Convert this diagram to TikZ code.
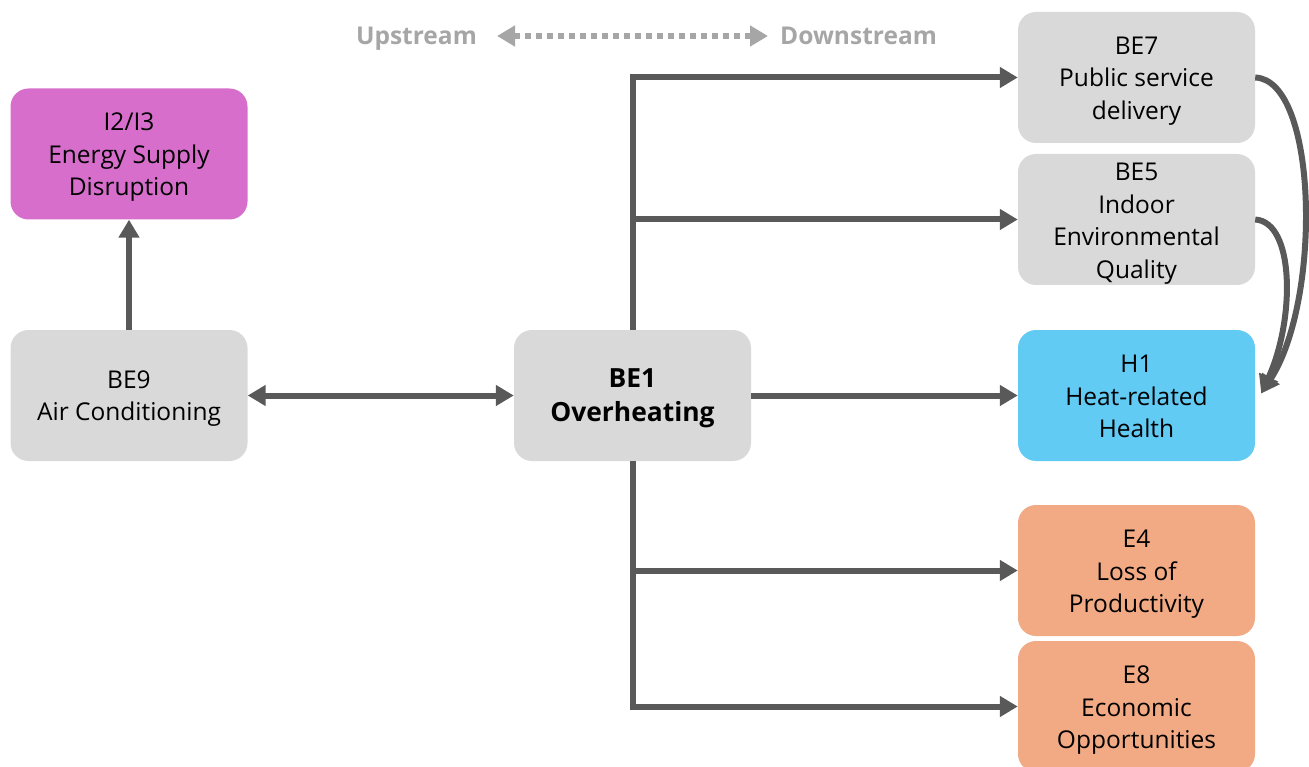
\documentclass[tikz,border=0pt]{standalone}
\usepackage{fontspec}
\setmainfont{Open Sans}
\usetikzlibrary{arrows.meta,calc}
\definecolor{boxgray}{HTML}{D9D9D9}
\definecolor{boxmagenta}{HTML}{D76ECC}
\definecolor{boxblue}{HTML}{61CBF4}
\definecolor{boxorange}{HTML}{F2AA84}
\definecolor{linkgray}{HTML}{595959}
\definecolor{legendgray}{HTML}{A6A6A6}
% centred block of lines, every row of equal height; the optional
% argument moves the block that far down inside its box
\newcommand{\cardlines}[2][3pt]{\raisebox{0pt}[\dimexpr\height+#1\relax][\dimexpr\depth-#1\relax]{\begin{tabular}{@{}c@{}}#2\end{tabular}}}
\tikzset{
  card/.style={rounded corners=18pt, minimum width=237pt, minimum height=131pt,
    inner sep=0pt, font=\fontsize{24.5}{32.5}\selectfont, text=black},
  link/.style={draw=linkgray, line width=6pt, -{Triangle[length=18pt,width=20pt]}},
  twoway/.style={link, {Triangle[length=18pt,width=20pt]}-{Triangle[length=18pt,width=20pt]}},
  legendline/.style={draw=legendgray, line width=6pt, dash pattern=on 6pt off 5pt,
    {Triangle[length=18pt,width=20pt]}-{Triangle[length=18pt,width=20pt]}},
  legendtext/.style={text=legendgray, font=\fontsize{24.5}{28}\selectfont\bfseries, inner sep=0pt}
}
\begin{document}
\begin{tikzpicture}[x=1pt,y=-1pt]
\useasboundingbox (0,0) rectangle (1309,767);
\clip (0,0) rectangle (1309,767);

% direction legend
\node[legendtext, anchor=base east] (up) at (477,44.5) {Upstream};
\node[legendtext, anchor=base west] (down) at (780,44.5) {Downstream};
\coordinate (legl) at ($(up.east |- 0,36)+(20,0)$);
\coordinate (legr) at ($(down.west |- 0,36)+(-12,0)$);
\draw[legendline] (legl) -- (legr);

% boxes
\node[card, fill=boxmagenta] (i2) at (129,154) {\cardlines{I2/I3\\Energy Supply\\Disruption}};
\node[card, fill=boxgray] (be9) at (129,395.5) {\cardlines[2.5pt]{BE9\\Air Conditioning}};
\node[card, fill=boxgray, font=\fontsize{26.4}{34}\selectfont\bfseries] (be1) at (632.5,395.5) {\cardlines[2pt]{BE1\\Overheating}};
\node[card, fill=boxgray] (be7) at (1136.5,77.5) {\cardlines{BE7\\Public service\\delivery}};
\node[card, fill=boxgray] (be5) at (1136.5,219.5) {\cardlines[3.5pt]{BE5\\Indoor\\Environmental\\Quality}};
\node[card, fill=boxblue] (h1) at (1136.5,395.5) {\cardlines{H1\\Heat-related\\Health}};
\node[card, fill=boxorange] (e4) at (1136.5,570.5) {\cardlines{E4\\Loss of\\Productivity}};
\node[card, fill=boxorange] (e8) at (1136.5,706.5) {\cardlines{E8\\Economic\\Opportunities}};

% connectors
\draw[link] (be9.north) -- (i2.south);
\draw[twoway] (be9.east) -- (be1.west);
\draw[link] (be1.east) -- (h1.west);
\draw[link] (be1.north) |- (be7.west);
\draw[link] (be1.north) |- (be5.west);
\draw[link] (be1.south) |- (e4.west);
\draw[link] (be1.south) |- (e8.west);

\coordinate (h1in) at ($(h1.east)+(6,-2)$);
\draw[link] (be7.east) .. controls (1318,80) and (1322,300) .. (h1in);
\draw[link] (be5.east) .. controls (1295,222) and (1295,320) .. (h1in);
\end{tikzpicture}
\end{document}
